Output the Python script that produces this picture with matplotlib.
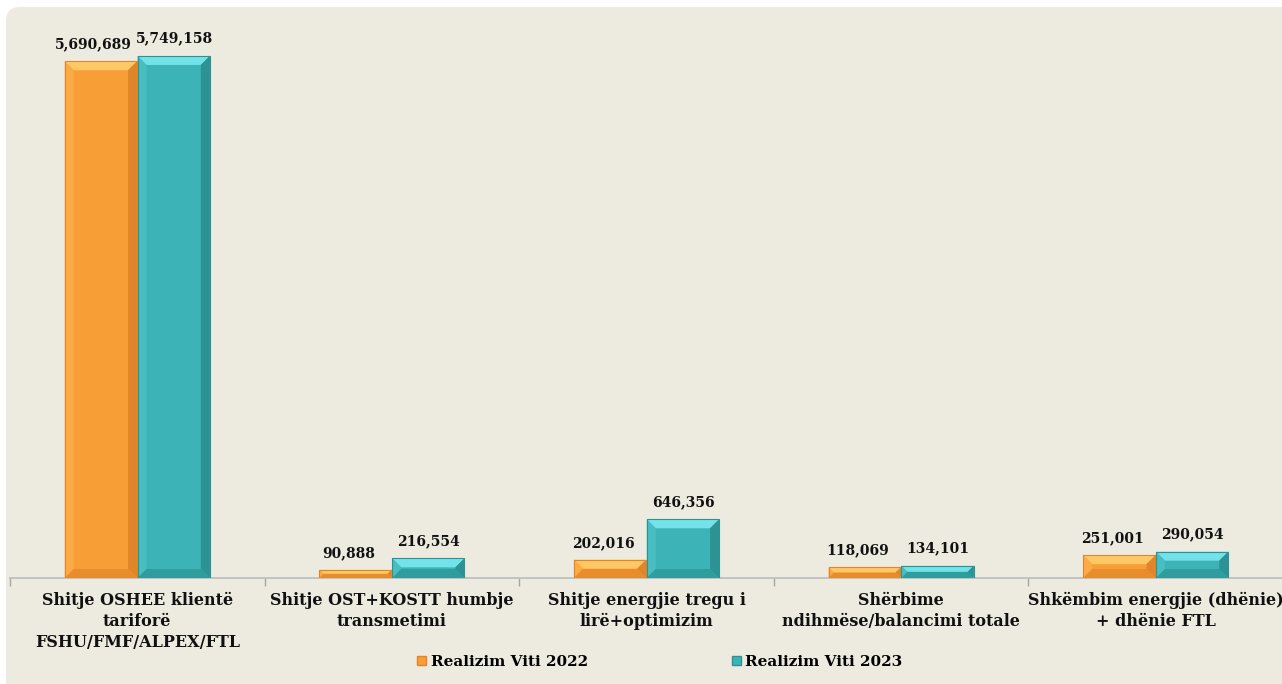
import matplotlib.pyplot as plt
from matplotlib.patches import Polygon, FancyBboxPatch, Patch

# data
categories = ["Shitje OSHEE klientë\ntariforë\nFSHU/FMF/ALPEX/FTL",
              "Shitje OST+KOSTT humbje\ntransmetimi",
              "Shitje energjie tregu i\nlirë+optimizim",
              "Shërbime\nndihmëse/balancimi totale",
              "Shkëmbim energjie (dhënie)\n+ dhënie FTL"]
values_2022 = [5690689, 90888, 202016, 118069, 251001]
values_2023 = [5749158, 216554, 646356, 134101, 290054]
series_names = ["Realizim Viti 2022", "Realizim Viti 2023"]

# face, light top, light left, dark right, dark bottom
orange = ["#F89E37", "#FFC867", "#FBAA45", "#E0862A", "#E88D2C"]
teal = ["#3CB3B7", "#74E3E9", "#48BEC2", "#2C9294", "#2F9C9E"]

plt.rcParams['font.family'] = ['DejaVu Serif']

fig = plt.figure(figsize=(12.82, 6.84), dpi=100, facecolor="white")

# beige rounded panel behind everything (pixel coords)
panel = FancyBboxPatch((6, -30), 1320, 684 - 7 + 30,
                       boxstyle="round,pad=0,rounding_size=14",
                       transform=None, facecolor="#EDEAE0", edgecolor="none",
                       zorder=-5)
fig.patches.append(panel)

ax = fig.add_axes([10 / 1282, 106 / 684, 1273 / 1282, (578 - 15) / 684])
ax.set_facecolor("none")
ax.set_zorder(2)
ymax = 6.2e6
ax.set_xlim(-0.5, len(categories) - 0.5)
ax.set_ylim(0, ymax)

w = 0.284
off = 0.143

# bevel size in data units (~9 px)
px_x = 1.0 * len(categories) / 1273
px_y = ymax / 563.0
bx = 9 * px_x
by = 9 * px_y


def bevel_bar(x, h, cols):
    x0, x1 = x - w / 2, x + w / 2
    b_y = min(by, h / 2)
    b_x = bx * b_y / by
    face, top, left, right, bottom = cols
    ax.add_patch(Polygon([(x0, 0), (x1, 0), (x1, h), (x0, h)],
                         closed=True, facecolor=face, edgecolor="none", zorder=2))
    ax.add_patch(Polygon([(x0, h), (x1, h), (x1 - b_x, h - b_y), (x0 + b_x, h - b_y)],
                         closed=True, facecolor=top, edgecolor="none", zorder=3))
    ax.add_patch(Polygon([(x0, 0), (x0 + b_x, b_y), (x0 + b_x, h - b_y), (x0, h)],
                         closed=True, facecolor=left, edgecolor="none", zorder=3))
    ax.add_patch(Polygon([(x1, 0), (x1 - b_x, b_y), (x1 - b_x, h - b_y), (x1, h)],
                         closed=True, facecolor=right, edgecolor="none", zorder=3))
    ax.add_patch(Polygon([(x0, 0), (x1, 0), (x1 - b_x, b_y), (x0 + b_x, b_y)],
                         closed=True, facecolor=bottom, edgecolor="none", zorder=3))
    ax.add_patch(Polygon([(x0, 0), (x1, 0), (x1, h), (x0, h)],
                         closed=True, facecolor="none", edgecolor=right,
                         linewidth=0.8, zorder=4))


for i in range(len(categories)):
    bevel_bar(i - off, values_2022[i], orange)
    bevel_bar(i + off, values_2023[i], teal)
    ax.annotate(f"{values_2022[i]:,}", (i - off - 0.028, values_2022[i]),
                xytext=(0, 7), textcoords="offset points", ha="center",
                va="bottom", fontsize=10, fontweight="bold", color="#111111")
    ax.annotate(f"{values_2023[i]:,}", (i + off + 0.002, values_2023[i]),
                xytext=(0, 7.5), textcoords="offset points", ha="center",
                va="bottom", fontsize=10, fontweight="bold", color="#111111")

# axis styling
for s in ["top", "right", "left"]:
    ax.spines[s].set_visible(False)
ax.spines["bottom"].set_color("#BFBFBF")
ax.spines["bottom"].set_linewidth(1.3)
ax.set_yticks([])
ax.set_xticks([i - 0.5 for i in range(len(categories) + 1)])
ax.set_xticklabels([])
ax.tick_params(axis="x", length=6, color="#A6A6A6", width=1)

for i, lab in enumerate(categories):
    ax.annotate(lab, (i, 0), xytext=(0, -10), textcoords="offset points",
                ha="center", va="top", fontsize=11.5, fontweight="bold",
                color="#111111", linespacing=1.3, annotation_clip=False)

handles = [Patch(facecolor=orange[0], edgecolor=orange[3]),
           Patch(facecolor=teal[0], edgecolor=teal[3])]
fig.legend(handles, series_names, loc="center", bbox_to_anchor=(660 / 1282, 1 - 662 / 684),
           ncol=2, frameon=False, handlelength=0.6, handleheight=0.6,
           handletextpad=0.3, columnspacing=9.4,
           prop={"weight": "bold", "size": 11})

fig.savefig("out.png", dpi=100, facecolor="white")
